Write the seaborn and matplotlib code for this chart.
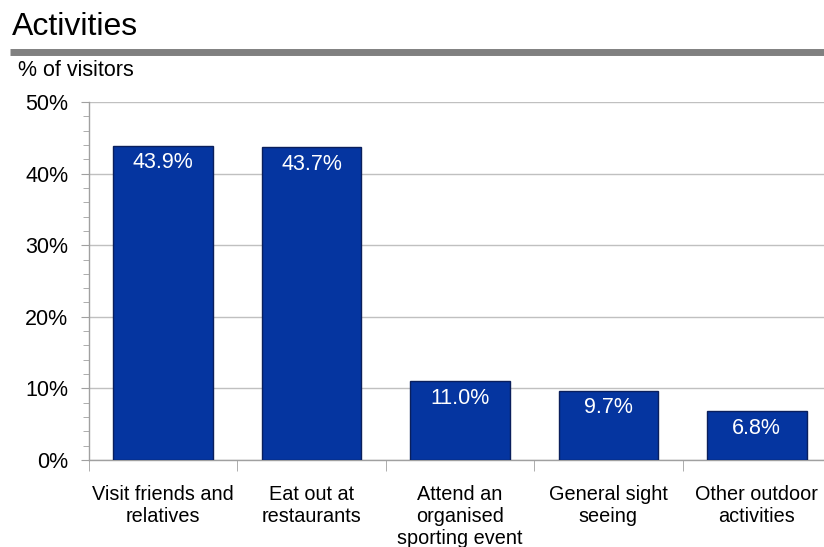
import matplotlib
matplotlib.use("Agg")
import matplotlib.pyplot as plt
import seaborn as sns
import pandas as pd
from matplotlib.ticker import MultipleLocator, PercentFormatter

categories = ["Visit friends and\nrelatives", "Eat out at\nrestaurants",
              "Attend an\norganised\nsporting event", "General sight\nseeing",
              "Other outdoor\nactivities"]
values = [43.9, 43.7, 11.0, 9.7, 6.8]
labels = ["43.9%", "43.7%", "11.0%", "9.7%", "6.8%"]

df = pd.DataFrame({"activity": categories, "pct": values})

sns.set_style("white")
plt.rcParams["font.family"] = ["Liberation Sans", "DejaVu Sans"]
plt.rcParams["text.color"] = "black"
plt.rcParams["xtick.labelcolor"] = "black"
plt.rcParams["ytick.labelcolor"] = "black"

fig = plt.figure(figsize=(8.24, 5.47), dpi=100)
ax = fig.add_axes([89 / 824, 1 - 460 / 547, 742 / 824, 358 / 547])

sns.barplot(data=df, x="activity", y="pct", color="#0535a0", width=0.67,
            edgecolor="#0a1f5c", linewidth=1.0, saturation=1, ax=ax, zorder=3)

for i, (v, t) in enumerate(zip(values, labels)):
    ax.text(i, v - 0.9, t, ha="center", va="top", color="white", fontsize=15.5, zorder=4)

ax.set_ylim(0, 50)
ax.set_xlim(-0.5, 4.5)
ax.yaxis.set_major_locator(MultipleLocator(10))
ax.yaxis.set_minor_locator(MultipleLocator(2))
ax.yaxis.set_major_formatter(PercentFormatter(decimals=0))
ax.grid(axis="y", color="#c0c0c0", linewidth=1.0, zorder=0)
ax.set_xlabel("")
ax.set_ylabel("")

for s in ["top", "right"]:
    ax.spines[s].set_visible(False)
for s in ["left", "bottom"]:
    ax.spines[s].set_color("#a0a0a0")
    ax.spines[s].set_linewidth(1.0)

ax.tick_params(axis="y", which="major", left=True, length=6, color="#a0a0a0",
               labelsize=15.5, pad=9)
ax.tick_params(axis="y", which="minor", left=True, length=4, color="#a0a0a0")
# x ticks sit at category boundaries
ax.set_xticks([i - 0.5 for i in range(5)], minor=True)
ax.tick_params(axis="x", which="minor", bottom=True, length=8, color="#a0a0a0")
ax.tick_params(axis="x", which="major", bottom=False, labelsize=14.3, pad=14.5)
ax.set_xticklabels(categories, linespacing=1.2)

fig.text(12 / 824, 1 - 27 / 547, "Activities", fontsize=23, va="center", ha="left")
fig.add_artist(plt.Line2D([10 / 824, 1], [1 - 51.5 / 547] * 2, color="#808080",
                          linewidth=5, solid_capstyle="butt"))
fig.text(18 / 824, 1 - 71 / 547, "% of visitors", fontsize=15.5, va="center", ha="left")

fig.savefig("out.png", dpi=100)
